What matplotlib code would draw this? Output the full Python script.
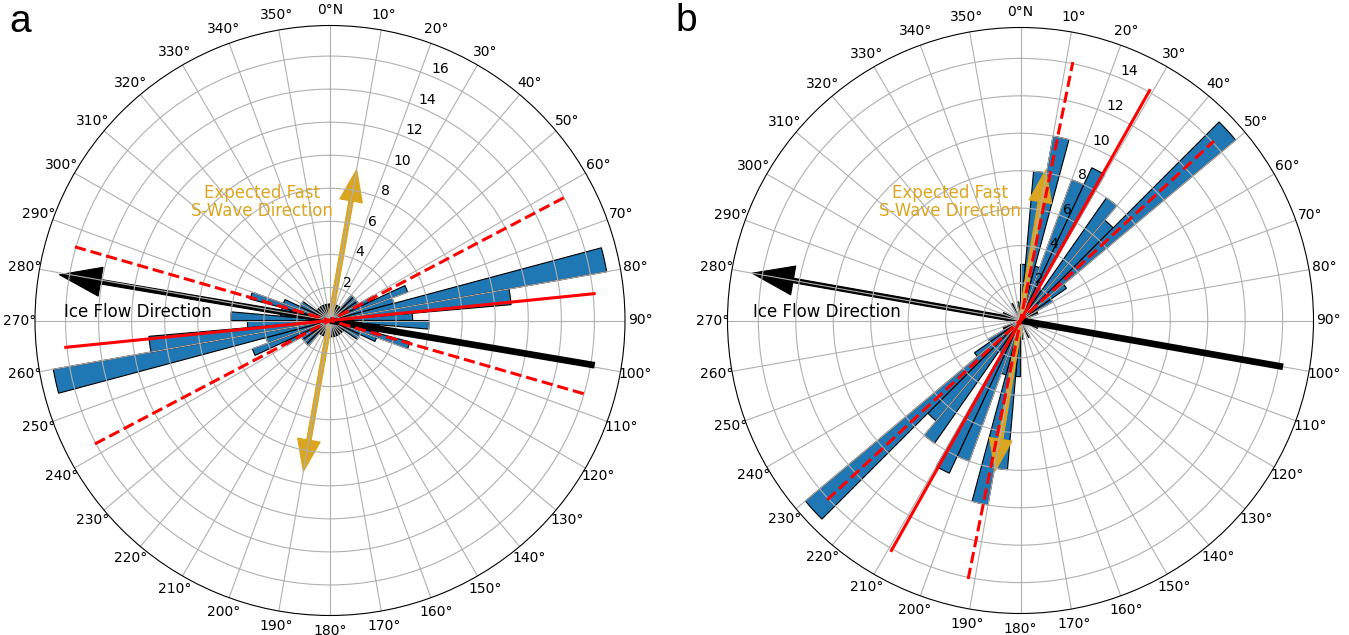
import numpy as np
import matplotlib
matplotlib.use('Agg')
import matplotlib.pyplot as plt

# ---- data (5-degree bins, axial data mirrored by 180 degrees) ----
bin_starts = np.arange(0, 180, 5)
counts_a = [1, 1, 0, 1, 1, 1, 1, 1, 2, 2, 2, 2, 3, 5, 4, 17, 11, 5,
            6, 3, 3, 5, 3, 2, 2, 1, 1, 1, 1, 1, 1, 1, 1, 1, 0, 1]
counts_b = [3, 8, 10, 3, 8, 9, 2, 8, 7, 15, 3, 2, 1, 1, 0, 0, 0, 0,
            0, 0, 1, 0, 1, 0, 0, 0, 0, 0, 0, 0, 1, 0, 0, 0, 1, 0]

mean_a, spread_a = 84.2, 21.9
mean_b, spread_b = 29.3, 17.85
ice_flow_a, ice_flow_b = 99.6, 100.0
fast_a, fast_b = 10.0, 9.5
rmax_a, rmax_b = 17.85, 15.65
rticks_a = [2, 4, 6, 8, 10, 12, 14, 16]
rticks_b = [2, 4, 6, 8, 10, 12, 14]
theta_ticks = list(range(0, 360, 10))
theta_labels = ['0°N'] + [f'{d}°' for d in theta_ticks[1:]]

GOLD = '#DAA520'
BLUE = '#1f77b4'

fig = plt.figure(figsize=(13.49, 6.35), dpi=100)
W, H = 1349, 635
ax_a = fig.add_axes([35 / W, (H - 615.5) / H, 590 / W, 590 / H], projection='polar')
ax_b = fig.add_axes([727.5 / W, (H - 613.5) / H, 586 / W, 586 / H], projection='polar')


def radial_line(ax, theta_deg, length, **kw):
    t1 = np.deg2rad(theta_deg + 180)
    t2 = np.deg2rad(theta_deg)
    ax.plot([t1, t1, t2, t2], [length, 0, 0, length], **kw)


def draw(ax, counts, rmax, rticks, mean, spread, ice, fast, text_pos, exp_pos):
    ax.set_theta_zero_location('N')
    ax.set_theta_direction(-1)
    centers = np.concatenate([bin_starts, bin_starts + 180]) + 2.5
    vals = np.concatenate([counts, counts])
    ax.bar(np.deg2rad(centers), vals, width=np.deg2rad(5), bottom=0,
           color=BLUE, edgecolor='black', linewidth=0.8, zorder=1)
    ax.set_ylim(0, rmax)
    ax.set_yticks(rticks)
    ax.set_yticklabels([str(t) for t in rticks], fontsize=10)
    ax.set_rlabel_position(22.5)
    ax.set_xticks(np.deg2rad(theta_ticks))
    ax.set_xticklabels(theta_labels, fontsize=10)
    ax.tick_params(axis='x', pad=0.4)

    L = 0.9 * rmax
    radial_line(ax, mean, L, color='red', lw=2.2, zorder=3)
    radial_line(ax, mean - spread, L, color='red', lw=2.2, ls='--', zorder=3)
    radial_line(ax, mean + spread, L, color='red', lw=2.2, ls='--', zorder=3)

    # ice flow direction
    ax.plot([np.deg2rad(ice), np.deg2rad(ice)], [0, 0.91 * rmax], color='black',
            lw=4.8, solid_capstyle='butt', zorder=2.5)
    ax.annotate('', xy=(np.deg2rad(ice + 180), 0.93 * rmax), xytext=(0, 0),
                arrowprops=dict(facecolor='black', edgecolor='black', width=3.2,
                                headwidth=21, headlength=30, shrink=0, lw=0.8),
                zorder=1.2)
    # expected fast S-wave direction
    for t in (fast, fast + 180):
        ax.annotate('', xy=(np.deg2rad(t), 0.52 * rmax), xytext=(0, 0),
                    arrowprops=dict(facecolor=GOLD, edgecolor=GOLD, width=3.2,
                                    headwidth=16.5, headlength=23, shrink=0, lw=0.8),
                    zorder=1.3)
    ax.text(text_pos[0], text_pos[1], 'Ice Flow Direction', transform=ax.transAxes,
            ha='center', va='center', fontsize=12, color='black')
    ax.text(exp_pos[0], exp_pos[1], 'Expected Fast\nS-Wave Direction',
            transform=ax.transAxes, ha='center', va='center', fontsize=12,
            color=GOLD, multialignment='center', linespacing=1.05)


draw(ax_a, counts_a, rmax_a, rticks_a, mean_a, spread_a, ice_flow_a, fast_a,
     (0.1746, 0.5144), (0.385, 0.701))
draw(ax_b, counts_b, rmax_b, rticks_b, mean_b, spread_b, ice_flow_b, fast_b,
     (0.170, 0.5145), (0.380, 0.702))

fig.text(9 / W, 1 - 4 / H, 'a', fontsize=28, family='Liberation Sans', va='top', ha='left')
fig.text(675 / W, 1 - 3 / H, 'b', fontsize=28, family='Liberation Sans', va='top', ha='left')

fig.savefig('out.png', dpi=100)
